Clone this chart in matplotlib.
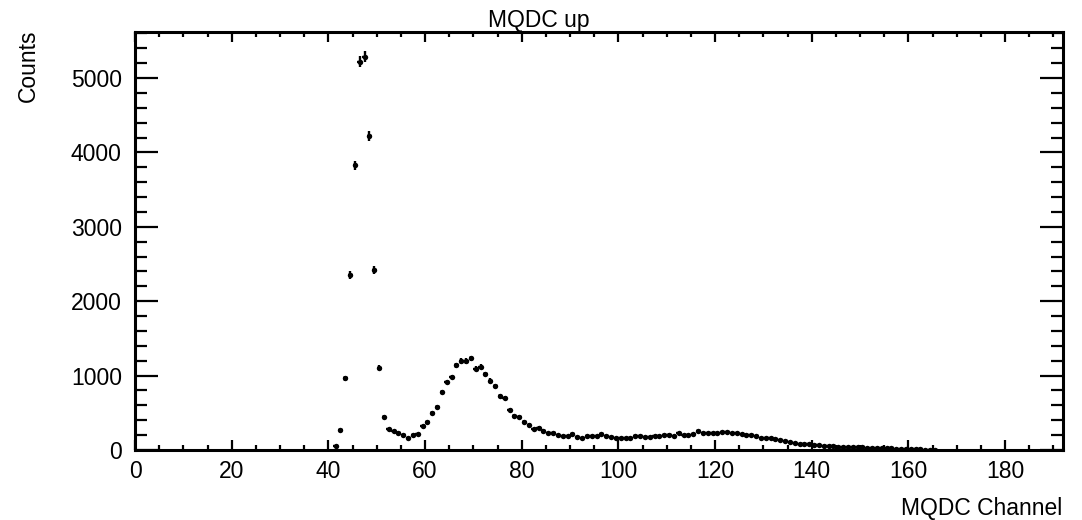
import numpy as np
import matplotlib
matplotlib.use("Agg")
import matplotlib.pyplot as plt
from matplotlib.ticker import MultipleLocator

# ---- data ----
first_channel = 41
counts = [
    50, 269, 964, 2352, 3830, 5219, 5286, 4220, 2419, 1109,          # 41-50
    448, 278, 255, 224, 198, 157, 202, 215, 323, 370,                # 51-60
    501, 578, 784, 914, 981, 1138, 1196, 1196, 1233, 1093,           # 61-70
    1120, 1022, 931, 860, 730, 695, 542, 457, 448, 380,              # 71-80
    340, 282, 300, 262, 228, 222, 200, 193, 193, 212,                # 81-90
    180, 168, 192, 190, 193, 212, 188, 180, 168, 160,                # 91-100
    160, 166, 190, 192, 180, 178, 182, 192, 200, 208,                # 101-110
    182, 225, 204, 202, 214, 250, 232, 224, 222, 232,                # 111-120
    237, 236, 224, 226, 215, 204, 200, 188, 166, 158,                # 121-130
    156, 143, 134, 125, 112, 99, 86, 78, 74, 70,                     # 131-140
    66, 58, 54, 49, 45, 44, 40, 39, 36, 35,                          # 141-150
    33, 30, 29, 27, 25, 22, 20, 18, 15, 12,                          # 151-160
    10, 8, 6, 5, 3,                                                  # 161-165
]
channels = [first_channel + i for i in range(len(counts))]
title = "MQDC up"
xlabel = "MQDC Channel"
ylabel = "Counts"

# ---- plot ----
plt.rcParams['font.family'] = ['Liberation Sans', 'DejaVu Sans']
FS = 16.5

fig = plt.figure(figsize=(10.82, 5.2), dpi=100)
W, H = 1082, 520
L, R, T, B = 135, 1063, 32, 450
ax = fig.add_axes([L / W, 1 - B / H, (R - L) / W, (B - T) / H])

x = np.array(channels) + 0.5
y = np.array(counts, dtype=float)
ax.errorbar(x, y, xerr=0.5, yerr=np.sqrt(y), fmt='o', ms=3.9, color='black',
            ecolor='black', elinewidth=1.7, capsize=0, mew=0)

ax.set_xlim(0, 192)
ax.set_ylim(0, 5620)

ax.xaxis.set_major_locator(MultipleLocator(20))
ax.xaxis.set_minor_locator(MultipleLocator(5))
ax.yaxis.set_major_locator(MultipleLocator(1000))
ax.yaxis.set_minor_locator(MultipleLocator(200))

ax.tick_params(axis='both', which='both', direction='in', top=True, right=True,
               labelsize=FS, width=1.6, color='black')
ax.tick_params(axis='x', which='major', length=7.2, pad=7.0)
ax.tick_params(axis='x', which='minor', length=3.6)
ax.tick_params(axis='y', which='major', length=16.5, pad=9.5)
ax.tick_params(axis='y', which='minor', length=8.6)

for s in ax.spines.values():
    s.set_linewidth(2.2)
    s.set_color('black')

fig.text(538.5 / W, 1 - 27 / H, title, ha='center', va='baseline', fontsize=FS)
fig.text(1062 / W, 1 - 515.5 / H, xlabel, ha='right', va='baseline', fontsize=FS)
fig.text(35 / W, 1 - 30 / H, ylabel, ha='right', va='baseline', rotation=90,
         rotation_mode='anchor', fontsize=FS)

fig.savefig("out.png", dpi=100)
